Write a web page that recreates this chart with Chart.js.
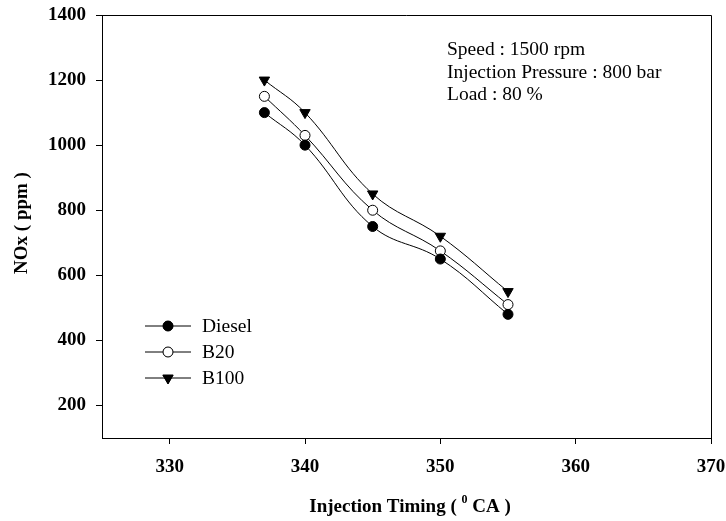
<!DOCTYPE html>
<html>
<head>
<meta charset="utf-8">
<script src="https://cdn.jsdelivr.net/npm/chart.js@4/dist/chart.umd.min.js"></script>
<style>
  html, body { margin: 0; padding: 0; background: white; }
  #wrap { width: 726px; height: 521px; }
</style>
</head>
<body>
<div id="wrap"><canvas id="noxChart" width="726" height="521"></canvas></div>
<script>
// data
const timing = [337, 340, 345, 350, 355];
const diesel = [1100, 1000, 750, 650, 480];
const b20 = [1150, 1030, 800, 675, 510];
const b100 = [1200, 1100, 850, 720, 550];
const xTicks = [330, 340, 350, 360, 370];
const yTicks = [200, 400, 600, 800, 1000, 1200, 1400];
const notes = ['Speed : 1500 rpm', 'Injection Pressure : 800 bar', 'Load : 80 %'];

const serif = "'Liberation Serif', 'Times New Roman', serif";

const toPoints = (ys) => timing.map((x, i) => ({ x: x, y: ys[i] }));

const series = [
  { label: 'Diesel', data: diesel, style: 'circle', fill: 'black', rot: 0, r: 5 },
  { label: 'B20', data: b20, style: 'circle', fill: 'white', rot: 0, r: 5 },
  { label: 'B100', data: b100, style: 'triangle', fill: 'black', rot: 180, r: 6 },
];

// frame, titles, legend and notes
const extras = {
  id: 'extras',
  afterDraw(chart) {
    const { ctx, chartArea } = chart;
    ctx.save();
    ctx.strokeStyle = 'black';
    ctx.lineWidth = 1;
    ctx.beginPath();
    ctx.moveTo(chartArea.left, chartArea.top + 0.5);
    ctx.lineTo(chartArea.right + 0.5, chartArea.top + 0.5);
    ctx.lineTo(chartArea.right + 0.5, chartArea.bottom);
    ctx.stroke();

    // x title with superscript 0
    ctx.fillStyle = 'black';
    ctx.textBaseline = 'alphabetic';
    ctx.textAlign = 'left';
    const big = 'bold 19px ' + serif;
    const small = 'bold 12px ' + serif;
    const partA = 'Injection Timing ( ';
    const partB = ' CA )';
    ctx.font = big;
    const wA = ctx.measureText(partA).width;
    const wB = ctx.measureText(partB).width;
    ctx.font = small;
    const wS = ctx.measureText('0').width;
    let x0 = 410 - (wA + wS + wB) / 2;
    ctx.font = big;
    ctx.fillText(partA, x0, 512);
    ctx.font = small;
    ctx.fillText('0', x0 + wA, 503);
    ctx.font = big;
    ctx.fillText(partB, x0 + wA + wS, 512);

    ctx.textBaseline = 'middle';
    ctx.textAlign = 'center';
    ctx.save();
    ctx.translate(22, 223);
    ctx.rotate(-Math.PI / 2);
    ctx.font = 'bold 19px ' + serif;
    ctx.fillText('NOx ( ppm )', 0, 0);
    ctx.restore();

    ctx.font = '19.5px ' + serif;
    ctx.textAlign = 'left';
    notes.forEach((t, i) => ctx.fillText(t, 447, 50 + i * 22.5));

    const rows = [326, 352, 378];
    series.forEach((s, i) => {
      const y = rows[i];
      ctx.beginPath();
      ctx.moveTo(145, y);
      ctx.lineTo(191, y);
      ctx.stroke();
      Chart.helpers.drawPoint(ctx, { pointStyle: s.style, radius: s.r, rotation: s.rot }, 168, y);
      ctx.fillStyle = s.fill;
      ctx.fill();
      ctx.stroke();
      ctx.fillStyle = 'black';
      ctx.fillText(s.label, 202, y + 1);
    });
    ctx.restore();
  }
};

new Chart(document.getElementById('noxChart'), {
  type: 'line',
  data: {
    datasets: series.map(s => ({
      label: s.label,
      data: toPoints(s.data),
      borderColor: 'black',
      borderWidth: 1,
      tension: 0.4,
      pointStyle: s.style,
      pointRotation: s.rot,
      pointRadius: s.r,
      pointBackgroundColor: s.fill,
      pointBorderColor: 'black',
      pointBorderWidth: 1,
    }))
  },
  options: {
    responsive: false,
    animation: false,
    layout: { padding: { top: 15, right: 15, left: 0, bottom: 0 } },
    plugins: { legend: { display: false }, tooltip: { enabled: false } },
    scales: {
      x: {
        type: 'linear',
        min: 325,
        max: 370,
        afterBuildTicks: (scale) => { scale.ticks = xTicks.map(v => ({ value: v })); },
        afterFit: (scale) => { scale.height = 83; scale.paddingRight = 0; scale.paddingLeft = 0; },
        grid: { drawOnChartArea: false, drawTicks: true, tickLength: 6, color: 'black' },
        border: { display: true, color: 'black', width: 1 },
        ticks: { color: 'black', padding: 12, maxRotation: 0, callback: (v) => String(v), font: { family: serif, size: 19, weight: 'bold' } },
      },
      y: {
        min: 100,
        max: 1400,
        afterBuildTicks: (scale) => { scale.ticks = yTicks.map(v => ({ value: v })); },
        afterFit: (scale) => { scale.width = 102; scale.paddingTop = 0; scale.paddingBottom = 0; },
        grid: { drawOnChartArea: false, drawTicks: true, tickLength: 6, color: 'black' },
        border: { display: true, color: 'black', width: 1 },
        ticks: { color: 'black', padding: 10, callback: (v) => String(v), font: { family: serif, size: 19, weight: 'bold' } },
      }
    }
  },
  plugins: [extras]
});
</script>
</body>
</html>
